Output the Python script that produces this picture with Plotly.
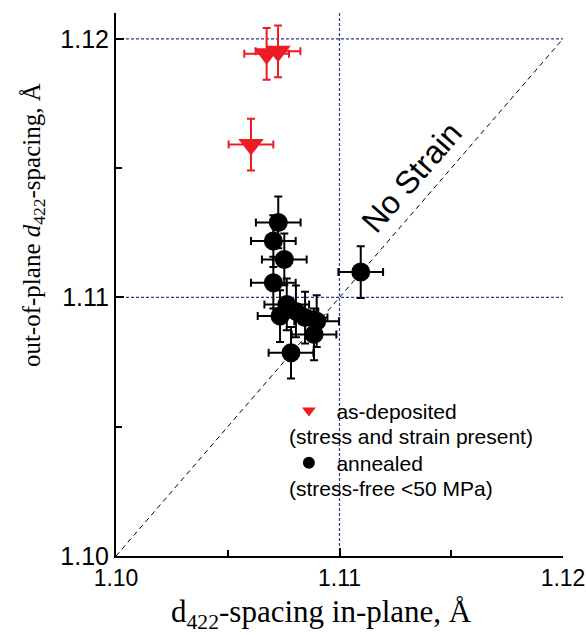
import plotly.graph_objects as go

# as-deposited (stress and strain present)
dep_x = [1.10674, 1.10725, 1.10604]
dep_y = [1.11942, 1.11952, 1.11591]
dep_ex = [0.001, 0.001, 0.001]
dep_ey = [0.001, 0.001, 0.001]

# annealed (stress-free <50 MPa)
ann_x = [1.10726, 1.10704, 1.10753, 1.10704, 1.10764, 1.10734, 1.10805,
         1.10846, 1.10898, 1.10886, 1.10783, 1.11095]
ann_y = [1.11290, 1.11218, 1.11147, 1.11057, 1.10973, 1.10928, 1.10946,
         1.10922, 1.10908, 1.10857, 1.10786, 1.11098]
ann_ex = [0.001] * len(ann_x)
ann_ey = [0.001] * len(ann_x)

tick_vals = [1.10, 1.11, 1.12]
tick_text = ["1.10", "1.11", "1.12"]

RED = "#ED1C24"
BLUE = "#23399A"
sans = "Arial, Liberation Sans, sans-serif"
serif = "Times New Roman, Liberation Serif, serif"

fig = go.Figure()

# reference lines
for yv in [1.12, 1.11]:
    fig.add_shape(type="line", x0=1.10, x1=1.12, y0=yv, y1=yv, xref="x", yref="y",
                  line=dict(color=BLUE, width=1.2, dash="3px,2px"), layer="below")
fig.add_shape(type="line", x0=1.11, x1=1.11, y0=0, y1=1, xref="x", yref="paper",
              line=dict(color=BLUE, width=1.2, dash="3px,2px"), layer="below")
fig.add_shape(type="line", x0=1.10, x1=1.12, y0=1.10, y1=1.12, xref="x", yref="y",
              line=dict(color="black", width=1, dash="5px,4px"), layer="below")

fig.add_trace(go.Scatter(
    x=dep_x, y=dep_y, mode="markers", name="as-deposited",
    legendgroup="a",
    marker=dict(symbol="triangle-down", size=22, color=RED),
    error_x=dict(type="data", array=dep_ex, color=RED, thickness=2, width=4),
    error_y=dict(type="data", array=dep_ey, color=RED, thickness=2, width=4),
))
fig.add_trace(go.Scatter(
    x=ann_x, y=ann_y, mode="markers", name="annealed",
    legendgroup="b",
    marker=dict(symbol="circle", size=19, color="black"),
    error_x=dict(type="data", array=ann_ex, color="black", thickness=2, width=4),
    error_y=dict(type="data", array=ann_ey, color="black", thickness=2, width=4),
))

annotations = [
    dict(x=1.11324, y=1.11465, xref="x", yref="y", text="No Strain", showarrow=False,
         textangle=-49, font=dict(family=sans, size=32, color="black")),
    dict(x=0.383, y=0.220, xref="paper", yref="paper", xanchor="left", yanchor="middle",
         text="(stress and strain present)", showarrow=False,
         font=dict(family=sans, size=21, color="black")),
    dict(x=0.383, y=0.125, xref="paper", yref="paper", xanchor="left", yanchor="middle",
         text="(stress-free <50 MPa)", showarrow=False,
         font=dict(family=sans, size=21, color="black")),
    dict(x=0.46, y=-0.066, xref="paper", yref="paper", yanchor="top",
         text="d<sub>422</sub>-spacing in-plane, Å", showarrow=False,
         font=dict(family=serif, size=31, color="black")),
    dict(x=-0.185, y=0.61, xref="paper", yref="paper", xanchor="center",
         text="out-of-plane <i>d</i><sub>422</sub>-spacing, Å", showarrow=False,
         textangle=-90, font=dict(family=serif, size=25, color="black")),
]

axis_common = dict(
    tickvals=tick_vals, ticktext=tick_text, ticks="inside", ticklen=8, tickwidth=2,
    tickcolor="black", showline=True, linecolor="black", linewidth=2, mirror=False,
    showgrid=False, zeroline=False, automargin=False,
    minor=dict(tickvals=[1.105, 1.115], ticks="inside", ticklen=6, tickwidth=2,
               tickcolor="black", showgrid=False),
)

fig.update_layout(
    width=587, height=635,
    margin=dict(l=116, r=24, t=13, b=79),
    paper_bgcolor="white", plot_bgcolor="white",
    xaxis=dict(range=[1.10, 1.12], tickfont=dict(family=sans, size=23, color="black"),
               **axis_common),
    yaxis=dict(range=[1.10, 1.121], tickfont=dict(family=sans, size=25, color="black"),
               **axis_common),
    showlegend=True,
    legend=dict(x=0.37, y=0.305, xanchor="left", yanchor="top", bgcolor="rgba(0,0,0,0)",
                font=dict(family=sans, size=21, color="black"), traceorder="grouped",
                tracegroupgap=22, itemsizing="constant", itemwidth=45),
    annotations=annotations,
)

fig.write_html("out.html")
